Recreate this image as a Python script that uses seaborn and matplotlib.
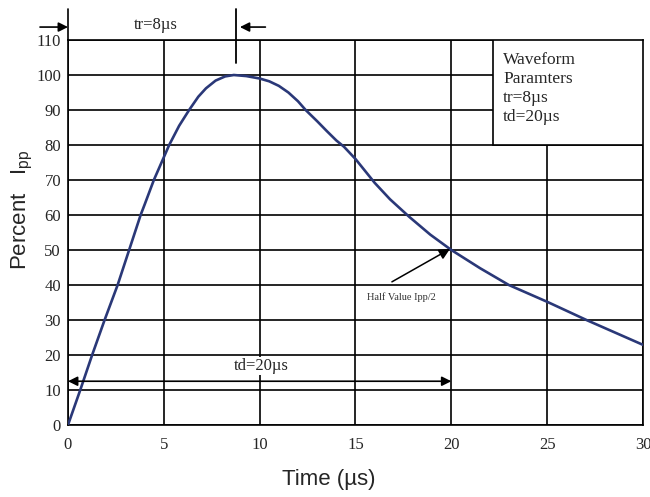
import matplotlib
matplotlib.use("Agg")
import matplotlib.pyplot as plt
import seaborn as sns
import pandas as pd
from matplotlib.patches import Rectangle

# Waveform points (time in us, percent of Ipp)
time_us = [0.0, 0.64, 1.26, 1.91, 2.59, 3.19, 3.79, 4.0, 4.48, 5.0, 5.28, 5.8,
           6.32, 6.8, 7.2, 7.7, 8.2, 8.65, 9.3, 10.0, 10.5, 11.0, 11.5, 12.0,
           12.4, 13.0, 13.5, 14.0, 14.4, 15.0, 15.5, 16.0, 16.8, 17.8, 18.9,
           20.0, 21.5, 23.0, 25.0, 27.05, 30.0]
percent_ipp = [0, 10, 20, 30, 40, 50, 60, 63, 70, 76.5, 80, 85.5,
               90, 93.8, 96.2, 98.4, 99.6, 100, 99.7, 99.0, 98.2, 96.9, 95.0, 92.5,
               90, 86.8, 84.0, 81.3, 79.5, 76.0, 72.6, 69.2, 64.5, 59.5, 54.4,
               50, 44.8, 40, 35.2, 30, 22.9]

x_ticks = [0, 5, 10, 15, 20, 25, 30]
y_ticks = [0, 10, 20, 30, 40, 50, 60, 70, 80, 90, 100, 110]

rise_time = 8
decay_time = 20
peak_time = 8.75
half_value = 50

sns.set_theme(style="white")
plt.rcParams['font.family'] = ['Liberation Serif', 'DejaVu Serif']

df = pd.DataFrame({"Time": time_us, "Percent": percent_ipp})

fig = plt.figure(figsize=(6.5, 4.97), dpi=100)
ax = fig.add_axes([0.1046, 0.1449, 0.8846, 0.7746])

sns.lineplot(data=df, x="Time", y="Percent", ax=ax, sort=False, estimator=None,
             color="#2a3878", linewidth=1.9, zorder=4)

ax.set_xlim(0, 30)
ax.set_ylim(0, 110)
ax.set_xticks(x_ticks)
ax.set_yticks(y_ticks)
ax.grid(True, color="black", linewidth=1.2)
ax.set_axisbelow(True)
ax.tick_params(length=0, labelsize=12)
ax.tick_params(axis="x", pad=9)
ax.tick_params(axis="y", pad=5)
for s in ax.spines.values():
    s.set_color("black")
    s.set_linewidth(1.2)

ax.set_xlabel("Time (µs)", family="Liberation Sans", fontsize=16)
ax.set_ylabel(r"Percent   $\mathregular{I_{pp}}$", family="Liberation Sans", fontsize=16)
ax.xaxis.set_label_coords(0.454, -0.115)
ax.yaxis.set_label_coords(-0.058, 0.56)

# parameter box in the top right corner
ax.add_patch(Rectangle((22.2, 80), 30 - 22.2, 30, facecolor="white",
                       edgecolor="black", linewidth=1.2, zorder=3))
ax.text(22.7, 106.5, "Waveform\nParamters\ntr=%dµs\ntd=%dµs" % (rise_time, decay_time),
        fontsize=12.5, va="top", ha="left", linespacing=1.25, zorder=5)

# rise time marker above the plot
arrow = dict(arrowstyle="-|>", mutation_scale=14, color="black", lw=1.2,
             shrinkA=0, shrinkB=0)
ax.annotate("", xy=(0, 113.7), xytext=(-1.46, 113.7), arrowprops=arrow,
            annotation_clip=False)
ax.annotate("", xy=(8.97, 113.7), xytext=(10.3, 113.7), arrowprops=arrow,
            annotation_clip=False)
ax.plot([peak_time, peak_time], [103.4, 119], color="black", lw=1.3, clip_on=False, zorder=5)
ax.plot([0, 0], [110, 119], color="black", lw=1.2, clip_on=False)
ax.text(4.6, 114.3, "tr=%dµs" % rise_time, fontsize=12, ha="center", va="center",
        bbox=dict(facecolor="white", edgecolor="none", pad=0.5), zorder=5)

# decay time double arrow
ax.annotate("", xy=(decay_time, 12.5), xytext=(0, 12.5),
            arrowprops=dict(arrowstyle="<|-|>", mutation_scale=14, color="black",
                            lw=1.2, shrinkA=0, shrinkB=0), zorder=5)
ax.text(10.1, 16.9, "td=%dµs" % decay_time, fontsize=12, ha="center", va="center",
        bbox=dict(facecolor="white", edgecolor="none", pad=0.5), zorder=5)

# half value pointer
ax.annotate("", xy=(19.93, half_value + 0.3), xytext=(16.9, 40.9),
            arrowprops=dict(arrowstyle="-|>", mutation_scale=16, color="black",
                            lw=1.1, shrinkA=0, shrinkB=0), zorder=5)
ax.text(17.4, 36.6, "Half Value Ipp/2", fontsize=7.5, ha="center", va="center",
        color="#333333", bbox=dict(facecolor="white", edgecolor="none", pad=0.5),
        zorder=5)

fig.savefig("out.png", dpi=100)
